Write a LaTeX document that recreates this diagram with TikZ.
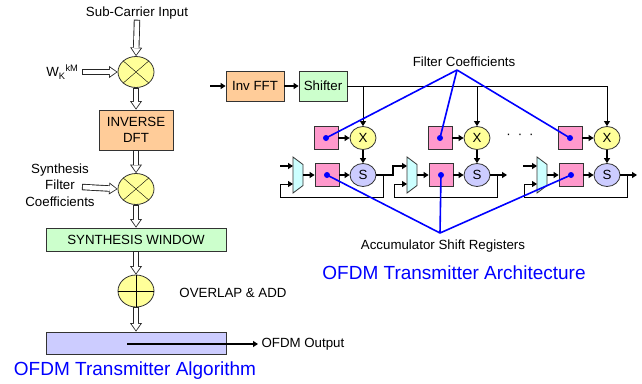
\documentclass[tikz,border=0pt]{standalone}
\usepackage{fontspec}
\setmainfont{Liberation Sans}
\usetikzlibrary{arrows.meta,shapes.geometric}

\definecolor{peche}{HTML}{FFCC99}
\definecolor{vertclair}{HTML}{CCFFCC}
\definecolor{lavande}{HTML}{CCCCFF}
\definecolor{jaune}{HTML}{FFFF99}
\definecolor{rose}{HTML}{FF99CC}
\definecolor{cyanclair}{HTML}{CCFFFF}

\begin{document}
\begin{tikzpicture}[x=1pt,y=-1pt,
    font=\fontsize{13.3}{16.5}\selectfont,
    boite/.style={draw=black!80,inner sep=0pt,line width=0.8pt},
    rond/.style={ellipse,draw=black!80,fill=jaune,inner sep=0pt,line width=0.8pt},
    creux/.style={draw=black!85,line width=6.4pt,-{Triangle[length=8.5pt,width=12pt,line width=0pt]},
        postaction={draw=white,line width=4.6pt,shorten <=0.9pt,shorten >=1.3pt,
        -{Triangle[length=6.5pt,width=8.8pt,line width=0pt]}}},
    fleche/.style={-{Triangle[length=5pt,width=6pt]},line width=1.3pt},
    fil/.style={line width=0.8pt},
    bleu/.style={blue,line width=1.6pt},
    titre/.style={blue,font=\fontsize{19}{22}\selectfont}]
    \useasboundingbox (0,0) rectangle (642,383);

    %Algorithme
    \node (sub) at (137,13) {Sub-Carrier Input};
    \node[rond,minimum width=36pt,minimum height=31pt] (m1) at (136,72) {};
    \draw (m1.north west) -- (m1.south east) (m1.north east) -- (m1.south west);
    \node[anchor=east] (w) at (82,72) {W\textsubscript{K}\textsuperscript{kM}};
    \node[boite,fill=peche,minimum width=74pt,minimum height=40pt,align=center] (dft) at (136,130) {INVERSE\\DFT};
    \node[rond,minimum width=36pt,minimum height=31pt] (m2) at (136,189) {};
    \draw (m2.north west) -- (m2.south east) (m2.north east) -- (m2.south west);
    \node[align=center] (coef) at (60,185) {Synthesis\\Filter\\Coefficients};
    \coordinate (c0) at (82,187);
    \node[boite,fill=vertclair,minimum width=180pt,minimum height=23pt] (win) at (136,239.5) {SYNTHESIS WINDOW};
    \node[rond,minimum width=36pt,minimum height=32pt] (add) at (136,291) {};
    \draw (add.north) -- (add.south) (add.west) -- (add.east);
    \node (ola) at (233,293) {OVERLAP \& ADD};
    \node[boite,fill=lavande,minimum width=180pt,minimum height=22pt] (sortie) at (136,343) {};
    \coordinate (s0) at (127,344);
    \node[anchor=west] (out) at (258,344) {OFDM Output};
    \node[titre] at (135,371) {OFDM Transmitter Algorithm};

    \draw[creux] ([yshift=3pt]sub.south) -- (m1.north);
    \draw[creux] (w.east) -- (m1.west);
    \draw[creux] (m1.south) -- (dft.north);
    \draw[creux] (dft.south) -- (m2.north);
    \draw[creux] (c0) -- (m2.west);
    \draw[creux] (m2.south) -- (win.north);
    \draw[creux] (win.south) -- (add.north);
    \draw[creux] (add.south) -- (sortie.north);
    \draw[fleche] (s0) -- (out.west);

    %Architecture
    \coordinate (e0) at (210,86);
    \node[boite,fill=peche,minimum width=58pt,minimum height=30pt] (ifft) at (255,86) {Inv FFT};
    \node[boite,fill=vertclair,minimum width=48pt,minimum height=30pt] (shift) at (323,86) {Shifter};
    \draw[fleche] (e0) -- (ifft);
    \draw[fleche] (ifft) -- (shift);
    \foreach \i/\b in {1/293,2/407,3/537}{
        \node[boite,fill=rose,minimum width=24pt,minimum height=23pt] (c\i) at (\b+33,138) {};
        \node[rond,minimum width=26pt,minimum height=23pt] (X\i) at (\b+70,138) {X};
        \node[boite,fill=rose,minimum width=24pt,minimum height=23pt] (r\i) at (\b+34,175) {};
        \node[rond,fill=lavande,minimum width=26pt,minimum height=23pt] (S\i) at (\b+70,175) {S};
        \draw[boite,fill=cyanclair] (\b,157) -- (\b+10,164.5) -- (\b+10,185.5) -- (\b,193) -- cycle;
        \coordinate (in\i) at (\b,166);
        \coordinate (fb\i) at (\b,184);
        \coordinate (mo\i) at (\b+10,175);
        \draw[fleche] (c\i) -- (X\i);
        \draw[fleche] (X\i) -- (S\i);
        \draw[fleche] (mo\i) -- (r\i);
        \draw[fleche] (r\i) -- (S\i);
        \draw[fleche,fil] (S\i.east) -| (\b+90,197) -| (\b-13,184) -- (fb\i);
    }
    \draw[fleche,fil] (shift.east) -| (X3.north);
    \draw[fleche,fil] (X1 |- shift.east) -- (X1.north);
    \draw[fleche,fil] (X2 |- shift.east) -- (X2.north);
    \coordinate (e1) at (280,166);
    \coordinate (e3) at (523,166);
    \coordinate (d2) at (507,175);
    \coordinate (d3) at (637,175);
    \draw[fleche] (e1) -- (in1);
    \draw[fleche] (e3) -- (in3);
    \draw[fleche] (S1.east) -- (393,175) |- (in2);
    \draw[fleche] (S2.east) -- (d2);
    \draw[fleche] (S3.east) -- (d3);
    \node (pts) at (520,136) {·\hspace{7pt}·\hspace{7pt}·};

    %Legendes
    \node (fcl) at (464,62) {Filter Coefficients};
    \coordinate (fc) at (457,70);
    \node (acl) at (443,246) {Accumulator Shift Registers};
    \coordinate (ac) at (440,233);
    \foreach \i in {1,2,3}{
        \draw[bleu] (fc) -- (c\i.center);
        \fill[blue] (c\i.center) circle (3pt);
        \draw[bleu] (ac) -- (r\i.center);
        \fill[blue] (r\i.center) circle (3pt);
    }
    \node[titre] at (454,273) {OFDM Transmitter Architecture};
\end{tikzpicture}
\end{document}
